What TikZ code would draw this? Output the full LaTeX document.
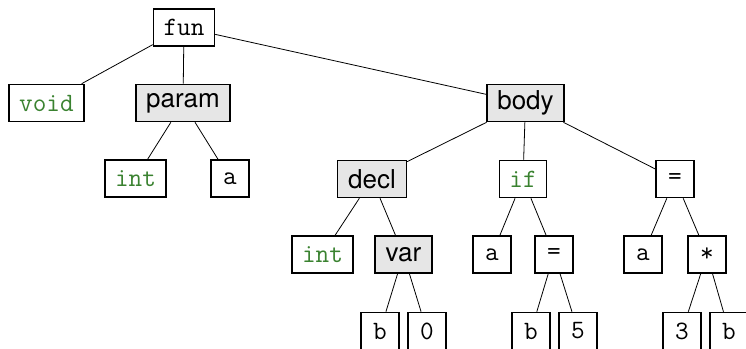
\documentclass[tikz,border=0pt]{standalone}
\usepackage{fontspec}
\setsansfont{TeX Gyre Heros}
\definecolor{kwgreen}{RGB}{58,130,48}
\definecolor{ntgray}{RGB}{230,230,230}
\tikzset{
  leaf/.style={draw, line width=1.6pt, inner xsep=10pt, inner ysep=0pt,
    minimum width=38pt, minimum height=37pt, font=\fontsize{26.5}{28}\selectfont\ttfamily},
  kw/.style={leaf, text=kwgreen},
  inner/.style={draw, line width=1.6pt, fill=ntgray, inner xsep=10.5pt, inner ysep=0pt,
    minimum height=37pt, font=\fontsize{26}{28}\selectfont\sffamily},
  link/.style={line width=0.8pt}
}
\begin{document}
\begin{tikzpicture}[x=1pt,y=-1pt]
\useasboundingbox (0,0) rectangle (746,348);
% level 0
\node[leaf] (fun) at (184,27.5) {fun};
% level 1
\node[kw] (void) at (46.5,103) {void};
\node[inner] (param) at (183,103) {param};
\node[inner] (body) at (525.5,103) {body};
% level 2
\node[kw] (pint) at (135.5,178.5) {int};
\node[leaf] (pa) at (230,178.5) {a};
\node[inner] (decl) at (372,179) {decl};
\node[kw] (if) at (523,179) {if};
\node[leaf] (asg) at (675,179) {=};
% level 3
\node[kw] (dint) at (322.5,254.5) {int};
\node[inner] (var) at (403.5,254.5) {var};
\node[leaf] (ia) at (492,254.5) {a};
\node[leaf] (ieq) at (554,254.5) {=};
\node[leaf] (aa) at (643,254.5) {a};
\node[leaf] (mul) at (707,254.5) {*};
% level 4
\node[leaf] (vb) at (380,331) {b};
\node[leaf] (v0) at (427,331) {0};
\node[leaf] (eb) at (531,331) {b};
\node[leaf] (e5) at (578,331) {5};
\node[leaf] (m3) at (682,331) {3};
\node[leaf] (mb) at (729,331) {b};
% edges
\begin{scope}[link]
\draw (fun) -- (void);
\draw (fun) -- (param);
\draw (fun) -- (body);
\draw (param) -- (pint);
\draw (param) -- (pa);
\draw (body) -- (decl);
\draw (body) -- (if);
\draw (body) -- (asg);
\draw (decl) -- (dint);
\draw (decl) -- (var);
\draw (if) -- (ia);
\draw (if) -- (ieq);
\draw (asg) -- (aa);
\draw (asg) -- (mul);
\draw (var) -- (vb);
\draw (var) -- (v0);
\draw (ieq) -- (eb);
\draw (ieq) -- (e5);
\draw (mul) -- (m3);
\draw (mul) -- (mb);
\end{scope}
\end{tikzpicture}
\end{document}
